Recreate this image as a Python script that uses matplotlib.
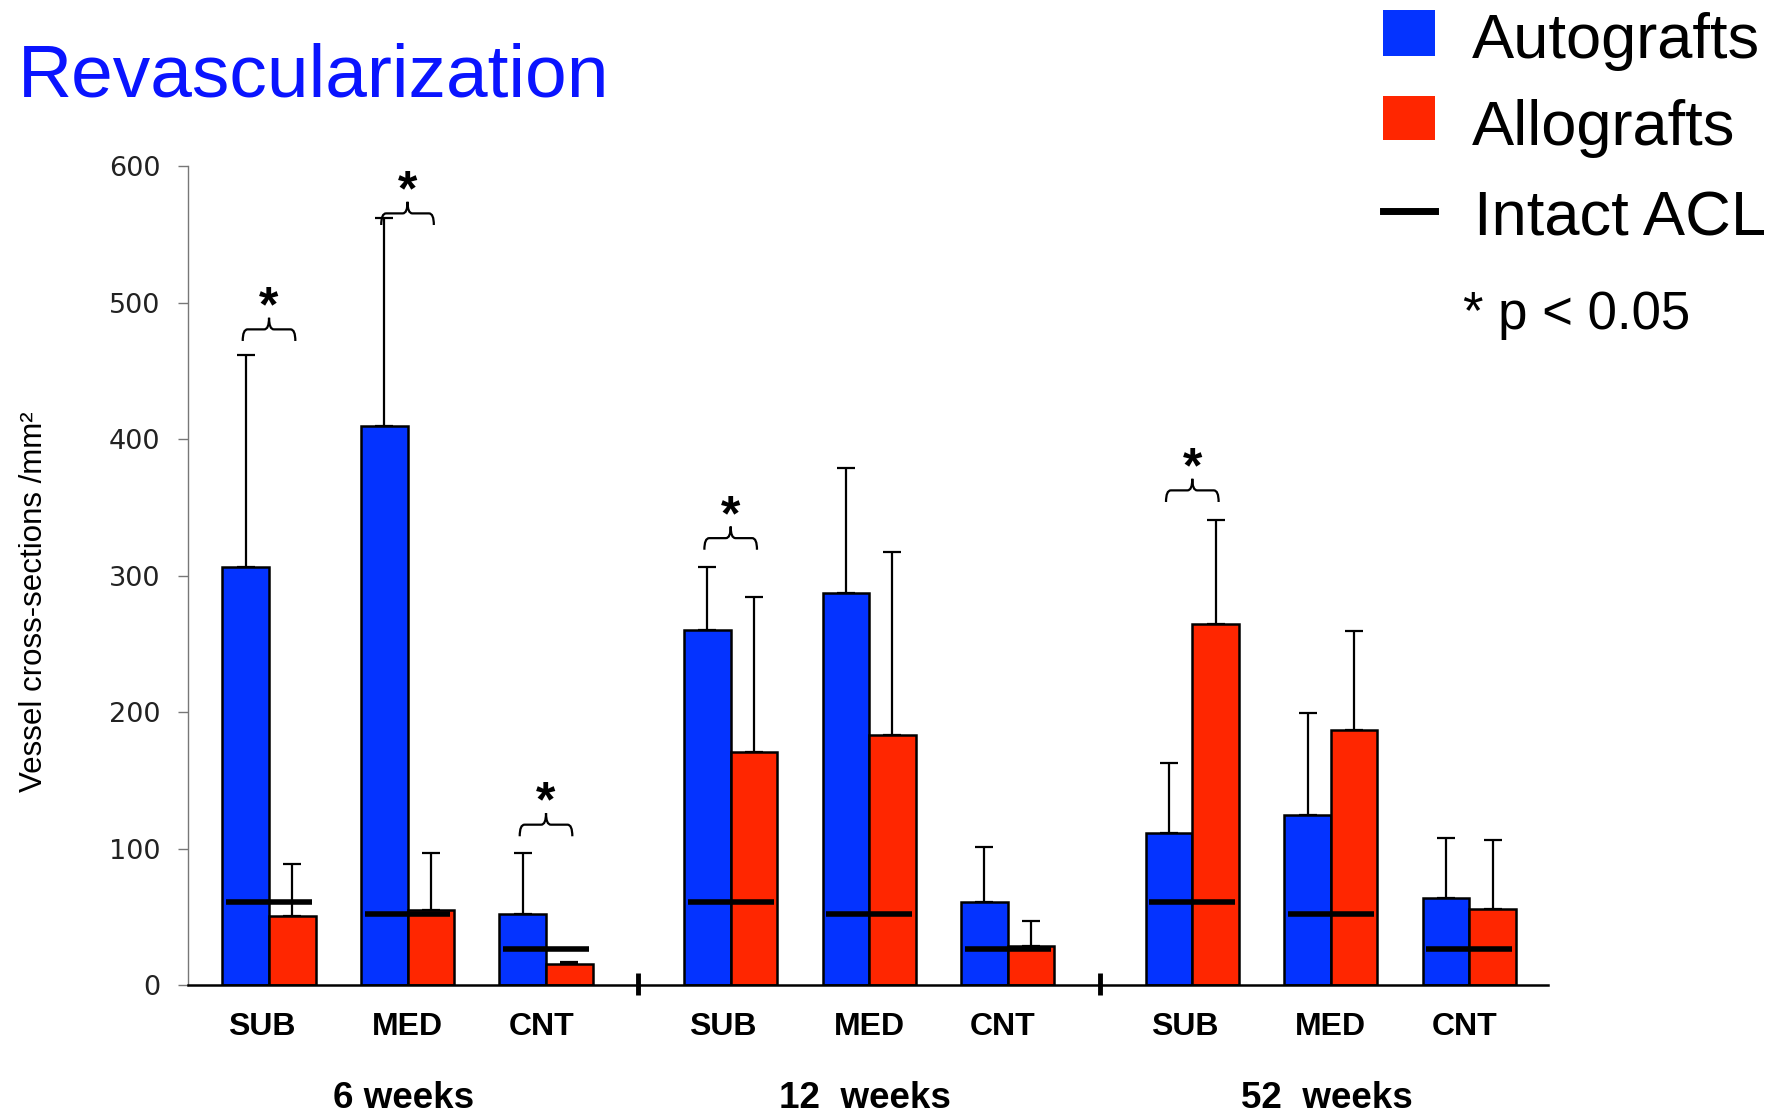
import numpy as np
import matplotlib
matplotlib.use("Agg")
import matplotlib.pyplot as plt
from matplotlib.path import Path
from matplotlib.patches import PathPatch, Rectangle
from matplotlib.lines import Line2D
import matplotlib.transforms as mtransforms

plt.rcParams['font.family'] = ['Liberation Sans', 'DejaVu Sans']

# data
sites = ['SUB', 'MED', 'CNT']
weeks = ['6 weeks', '12  weeks', '52  weeks']
auto_mean = [306, 410, 52, 260, 287, 60.5, 111.4, 124.3, 63.6]
auto_sd = [156, 152, 45, 46, 92, 41, 51, 75, 44]
allo_mean = [50.5, 55, 15.5, 170.5, 183, 28.5, 264.7, 186.7, 55.7]
allo_sd = [38.5, 42, 1.5, 113.5, 134, 18.7, 76, 73, 50.7]
intact_acl = [60.5, 52, 26.5]
sig_idx = [0, 1, 2, 3, 6]
sig_base = [472, 557, 109, 319, 354]

blue = '#0433FF'
red = '#FF2600'

fig = plt.figure(figsize=(17.89, 11.14), dpi=100)
ax = fig.add_axes([0.10525, 0.1158, 0.7602, 0.7349])

gap = 10 / 3
x = np.array([g * gap + s for g in range(3) for s in range(3)])
w = 0.336

ax.bar(x - w / 2, auto_mean, w, color=blue, edgecolor='black', linewidth=1.8, zorder=2)
ax.bar(x + w / 2, allo_mean, w, color=red, edgecolor='black', linewidth=1.8, zorder=2)

zeros = np.zeros(len(x))
ax.errorbar(x - w / 2, auto_mean, yerr=[zeros, auto_sd], fmt='none', ecolor='black',
            elinewidth=1.6, capsize=6.5, capthick=1.6, zorder=1)
ax.errorbar(x + w / 2, allo_mean, yerr=[zeros, allo_sd], fmt='none', ecolor='black',
            elinewidth=1.6, capsize=6.5, capthick=1.6, zorder=1)

# intact ACL reference lines
ax.hlines(np.tile(intact_acl, 3), x - 0.31, x + 0.31, colors='black', linewidth=4, zorder=5)

# axis breaks between time points
breaks = [(x[2] + x[3]) / 2, (x[5] + x[6]) / 2]
ax.vlines(breaks, -7.5, 8.7, colors='black', linewidth=3.5, clip_on=False, zorder=6)


def brace(xc, yb, half=0.19, h=17, rx=0.035):
    ym = yb + h / 2
    yt = yb + h
    x0, x1 = xc - half, xc + half
    verts = [(x0, yb), (x0, ym), (x0 + rx, ym), (xc - rx, ym), (xc, ym), (xc, yt),
             (xc, ym), (xc + rx, ym), (x1 - rx, ym), (x1, ym), (x1, yb)]
    codes = [Path.MOVETO, Path.CURVE3, Path.CURVE3, Path.LINETO, Path.CURVE3, Path.CURVE3,
             Path.CURVE3, Path.CURVE3, Path.LINETO, Path.CURVE3, Path.CURVE3]
    ax.add_patch(PathPatch(Path(verts, codes), fill=False, edgecolor='black',
                           linewidth=1.6, clip_on=False, zorder=6))
    ax.text(xc, yt - 2.5, '*', ha='center', va='baseline', fontsize=36,
            fontweight='bold', clip_on=False)


for i, b in zip(sig_idx, sig_base):
    brace(x[i], b)

ax.set_xlim(-0.583, 9.237)
ax.set_ylim(0, 600)
ax.set_yticks(range(0, 601, 100))
ax.set_xticks([])
for s in ['top', 'right']:
    ax.spines[s].set_visible(False)
ax.spines['left'].set_color('#777777')
ax.spines['left'].set_linewidth(1.0)
ax.spines['bottom'].set_color('black')
ax.spines['bottom'].set_linewidth(1.8)
ax.tick_params(axis='y', length=7, width=1, color='#777777', labelsize=19.5, pad=13,
               labelcolor='#222222')
for lab in ax.get_yticklabels():
    lab.set_family('DejaVu Sans')

# category labels sit a little left of the pair centre in the original
site_shift = [-0.055, 0.0, -0.035]
trans = mtransforms.blended_transform_factory(ax.transData, ax.transAxes)
for i, xi in enumerate(x):
    ax.text(xi + site_shift[i % 3], -0.061, sites[i % 3], transform=trans, ha='center',
            va='baseline', fontsize=23, fontweight='bold')
for g in range(3):
    ax.text(x[g * 3 + 1] - 0.03, -0.1506, weeks[g], transform=trans, ha='center',
            va='baseline', fontsize=26.5, fontweight='bold')

fig.text(0.010, 0.913, 'Revascularization', fontsize=54, color='#0A14FF', va='baseline')
fig.text(0.019, 0.4596, 'Vessel cross-sections /mm²', rotation=90, ha='center',
         va='center', fontsize=22.5)

# legend drawn by hand
fig.add_artist(Rectangle((0.773, 0.9497), 0.029, 0.0413, transform=fig.transFigure,
                         facecolor=blue, edgecolor='none'))
fig.add_artist(Rectangle((0.773, 0.874), 0.029, 0.0395, transform=fig.transFigure,
                         facecolor=red, edgecolor='none'))
fig.add_artist(Line2D([0.773, 0.802], [0.8106, 0.8106], transform=fig.transFigure,
                      color='black', linewidth=5))
fig.text(0.823, 0.948, 'Autografts', fontsize=45.5, va='baseline')
fig.text(0.823, 0.870, 'Allografts', fontsize=45.5, va='baseline')
fig.text(0.824, 0.789, 'Intact ACL', fontsize=45.5, va='baseline')
fig.text(0.818, 0.705, '* p < 0.05', fontsize=38, va='baseline')

fig.savefig('out.png', dpi=100)
